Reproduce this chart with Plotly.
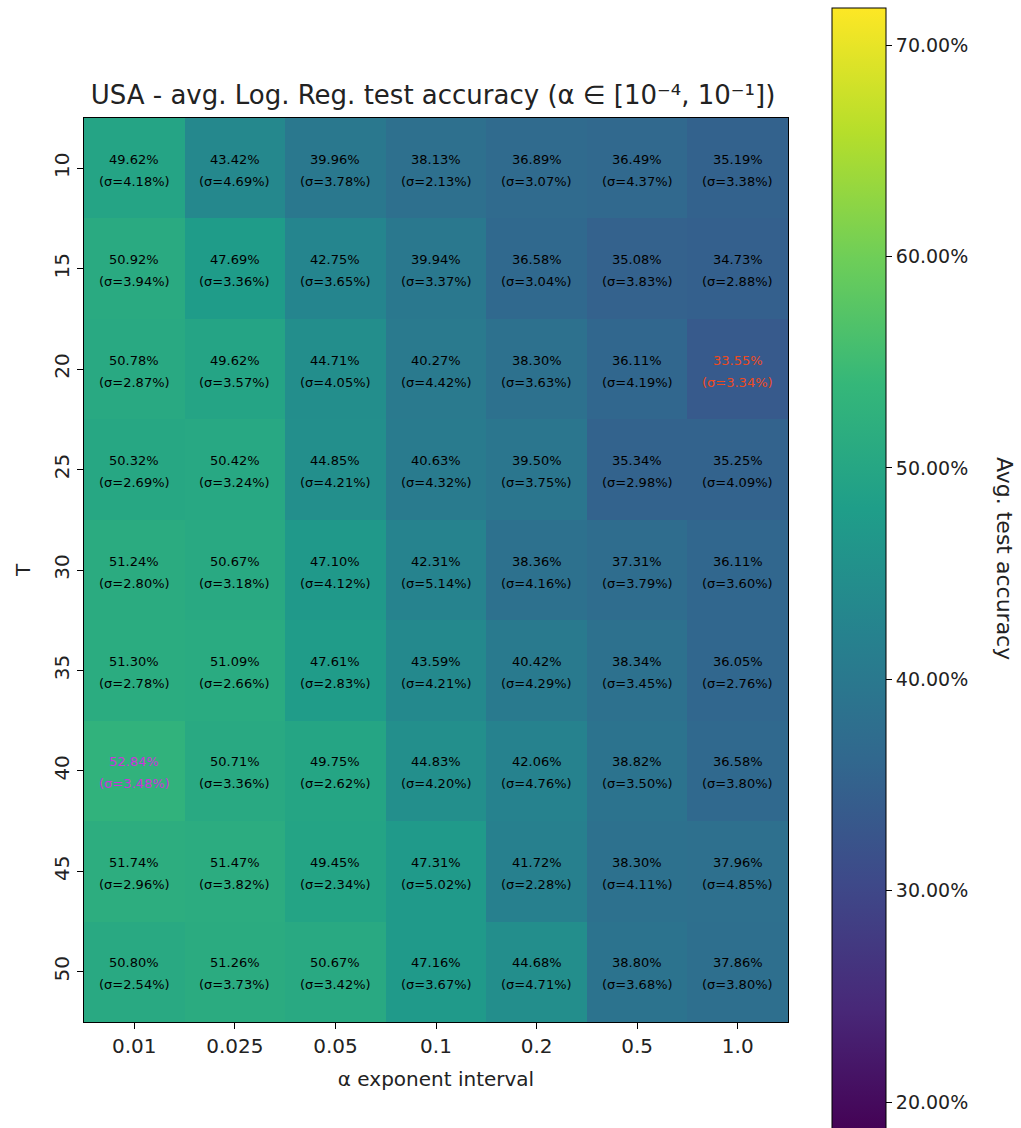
import plotly.graph_objects as go

# Mean test accuracy (%) and its standard deviation for each (T, alpha interval) pair
alpha_labels = ["0.01", "0.025", "0.05", "0.1", "0.2", "0.5", "1.0"]
t_labels = ["10", "15", "20", "25", "30", "35", "40", "45", "50"]

acc_T10 = [49.62, 43.42, 39.96, 38.13, 36.89, 36.49, 35.19]
acc_T15 = [50.92, 47.69, 42.75, 39.94, 36.58, 35.08, 34.73]
acc_T20 = [50.78, 49.62, 44.71, 40.27, 38.30, 36.11, 33.55]
acc_T25 = [50.32, 50.42, 44.85, 40.63, 39.50, 35.34, 35.25]
acc_T30 = [51.24, 50.67, 47.10, 42.31, 38.36, 37.31, 36.11]
acc_T35 = [51.30, 51.09, 47.61, 43.59, 40.42, 38.34, 36.05]
acc_T40 = [52.84, 50.71, 49.75, 44.83, 42.06, 38.82, 36.58]
acc_T45 = [51.74, 51.47, 49.45, 47.31, 41.72, 38.30, 37.96]
acc_T50 = [50.80, 51.26, 50.67, 47.16, 44.68, 38.80, 37.86]

std_T10 = [4.18, 4.69, 3.78, 2.13, 3.07, 4.37, 3.38]
std_T15 = [3.94, 3.36, 3.65, 3.37, 3.04, 3.83, 2.88]
std_T20 = [2.87, 3.57, 4.05, 4.42, 3.63, 4.19, 3.34]
std_T25 = [2.69, 3.24, 4.21, 4.32, 3.75, 2.98, 4.09]
std_T30 = [2.80, 3.18, 4.12, 5.14, 4.16, 3.79, 3.60]
std_T35 = [2.78, 2.66, 2.83, 4.21, 4.29, 3.45, 2.76]
std_T40 = [3.48, 3.36, 2.62, 4.20, 4.76, 3.50, 3.80]
std_T45 = [2.96, 3.82, 2.34, 5.02, 2.28, 4.11, 4.85]
std_T50 = [2.54, 3.73, 3.42, 3.67, 4.71, 3.68, 3.80]

acc = [acc_T10, acc_T15, acc_T20, acc_T25, acc_T30, acc_T35, acc_T40, acc_T45, acc_T50]
std = [std_T10, std_T15, std_T20, std_T25, std_T30, std_T35, std_T40, std_T45, std_T50]

cbar_ticks = [20, 30, 40, 50, 60, 70]
z_min, z_max = 18.5, 71.75

W, H = 1021, 1128
M_L, M_R, M_T, M_B = 84, 233, 118, 106
plot_h = H - M_T - M_B
plot_w = W - M_L - M_R

FONT = "DejaVu Sans"
TXT = "#222"

xs = list(range(len(alpha_labels)))
ys = list(range(len(t_labels)))

fig = go.Figure()
fig.add_trace(go.Heatmap(
    z=acc, x=xs, y=ys,
    zmin=z_min, zmax=z_max,
    colorscale="Viridis",
    hoverinfo="skip",
    colorbar=dict(
        thickness=54,
        lenmode="pixels",
        len=(z_max - z_min) * 21.14,
        yanchor="top",
        y=(H - M_B - 8) / plot_h,
        yref="paper",
        xanchor="left",
        x=(832 - M_L) / plot_w,
        xpad=0, ypad=0,
        outlinecolor="black",
        outlinewidth=1,
        tickvals=cbar_ticks,
        ticktext=[f"{v:.2f}%" for v in cbar_ticks],
        ticks="outside",
        ticklen=6,
        tickcolor="black",
        tickfont=dict(family=FONT, size=19, color=TXT),
    ),
))

# Highlight the best and worst cell
flat = [(v, i, j) for i, row in enumerate(acc) for j, v in enumerate(row)]
best = max(flat)
worst = min(flat)

annotations = []
for i, row in enumerate(acc):
    for j, v in enumerate(row):
        color = "black"
        if (i, j) == (best[1], best[2]):
            color = "#cc33dd"
        elif (i, j) == (worst[1], worst[2]):
            color = "#ee4a1e"
        for line, shift in ((f"{v:.2f}%", 9), (f"(σ={std[i][j]:.2f}%)", -13)):
            annotations.append(dict(
                x=xs[j], y=ys[i], xref="x", yref="y",
                text=line, showarrow=False, yshift=shift,
                font=dict(family=FONT, size=13, color=color),
            ))

annotations.append(dict(
    x=(1005 - M_L) / plot_w, y=(H - M_B - 558) / plot_h,
    xref="paper", yref="paper", xanchor="center", yanchor="middle",
    text="Avg. test accuracy", showarrow=False, textangle=90,
    font=dict(family=FONT, size=22, color=TXT),
))

fig.update_layout(
    width=W, height=H,
    margin=dict(l=M_L, r=M_R, t=M_T, b=M_B, autoexpand=False),
    paper_bgcolor="white",
    plot_bgcolor="white",
    title=dict(
        text="USA - avg. Log. Reg. test accuracy (α ∈ [10⁻⁴, 10⁻¹])",
        x=433 / W, xanchor="center",
        y=(H - 95) / H, yanchor="middle",
        font=dict(family=FONT, size=26, color=TXT),
    ),
    annotations=annotations,
    xaxis=dict(
        tickvals=xs, ticktext=alpha_labels,
        range=[-0.5, len(xs) - 0.5],
        showline=True, linecolor="black", linewidth=1, mirror=True,
        ticks="outside", ticklen=6, tickcolor="black",
        tickfont=dict(family=FONT, size=20, color=TXT),
        title=dict(text="α exponent interval", standoff=14,
                   font=dict(family=FONT, size=20, color=TXT)),
        showgrid=False, zeroline=False,
    ),
    yaxis=dict(
        tickvals=ys, ticktext=t_labels,
        range=[len(ys) - 0.5, -0.5],
        showline=True, linecolor="black", linewidth=1, mirror=True,
        ticks="outside", ticklen=6, tickcolor="black",
        tickangle=-90,
        tickfont=dict(family=FONT, size=20, color=TXT),
        title=dict(text="T", standoff=14,
                   font=dict(family=FONT, size=20, color=TXT)),
        showgrid=False, zeroline=False,
    ),
)

fig.write_html("out.html")
